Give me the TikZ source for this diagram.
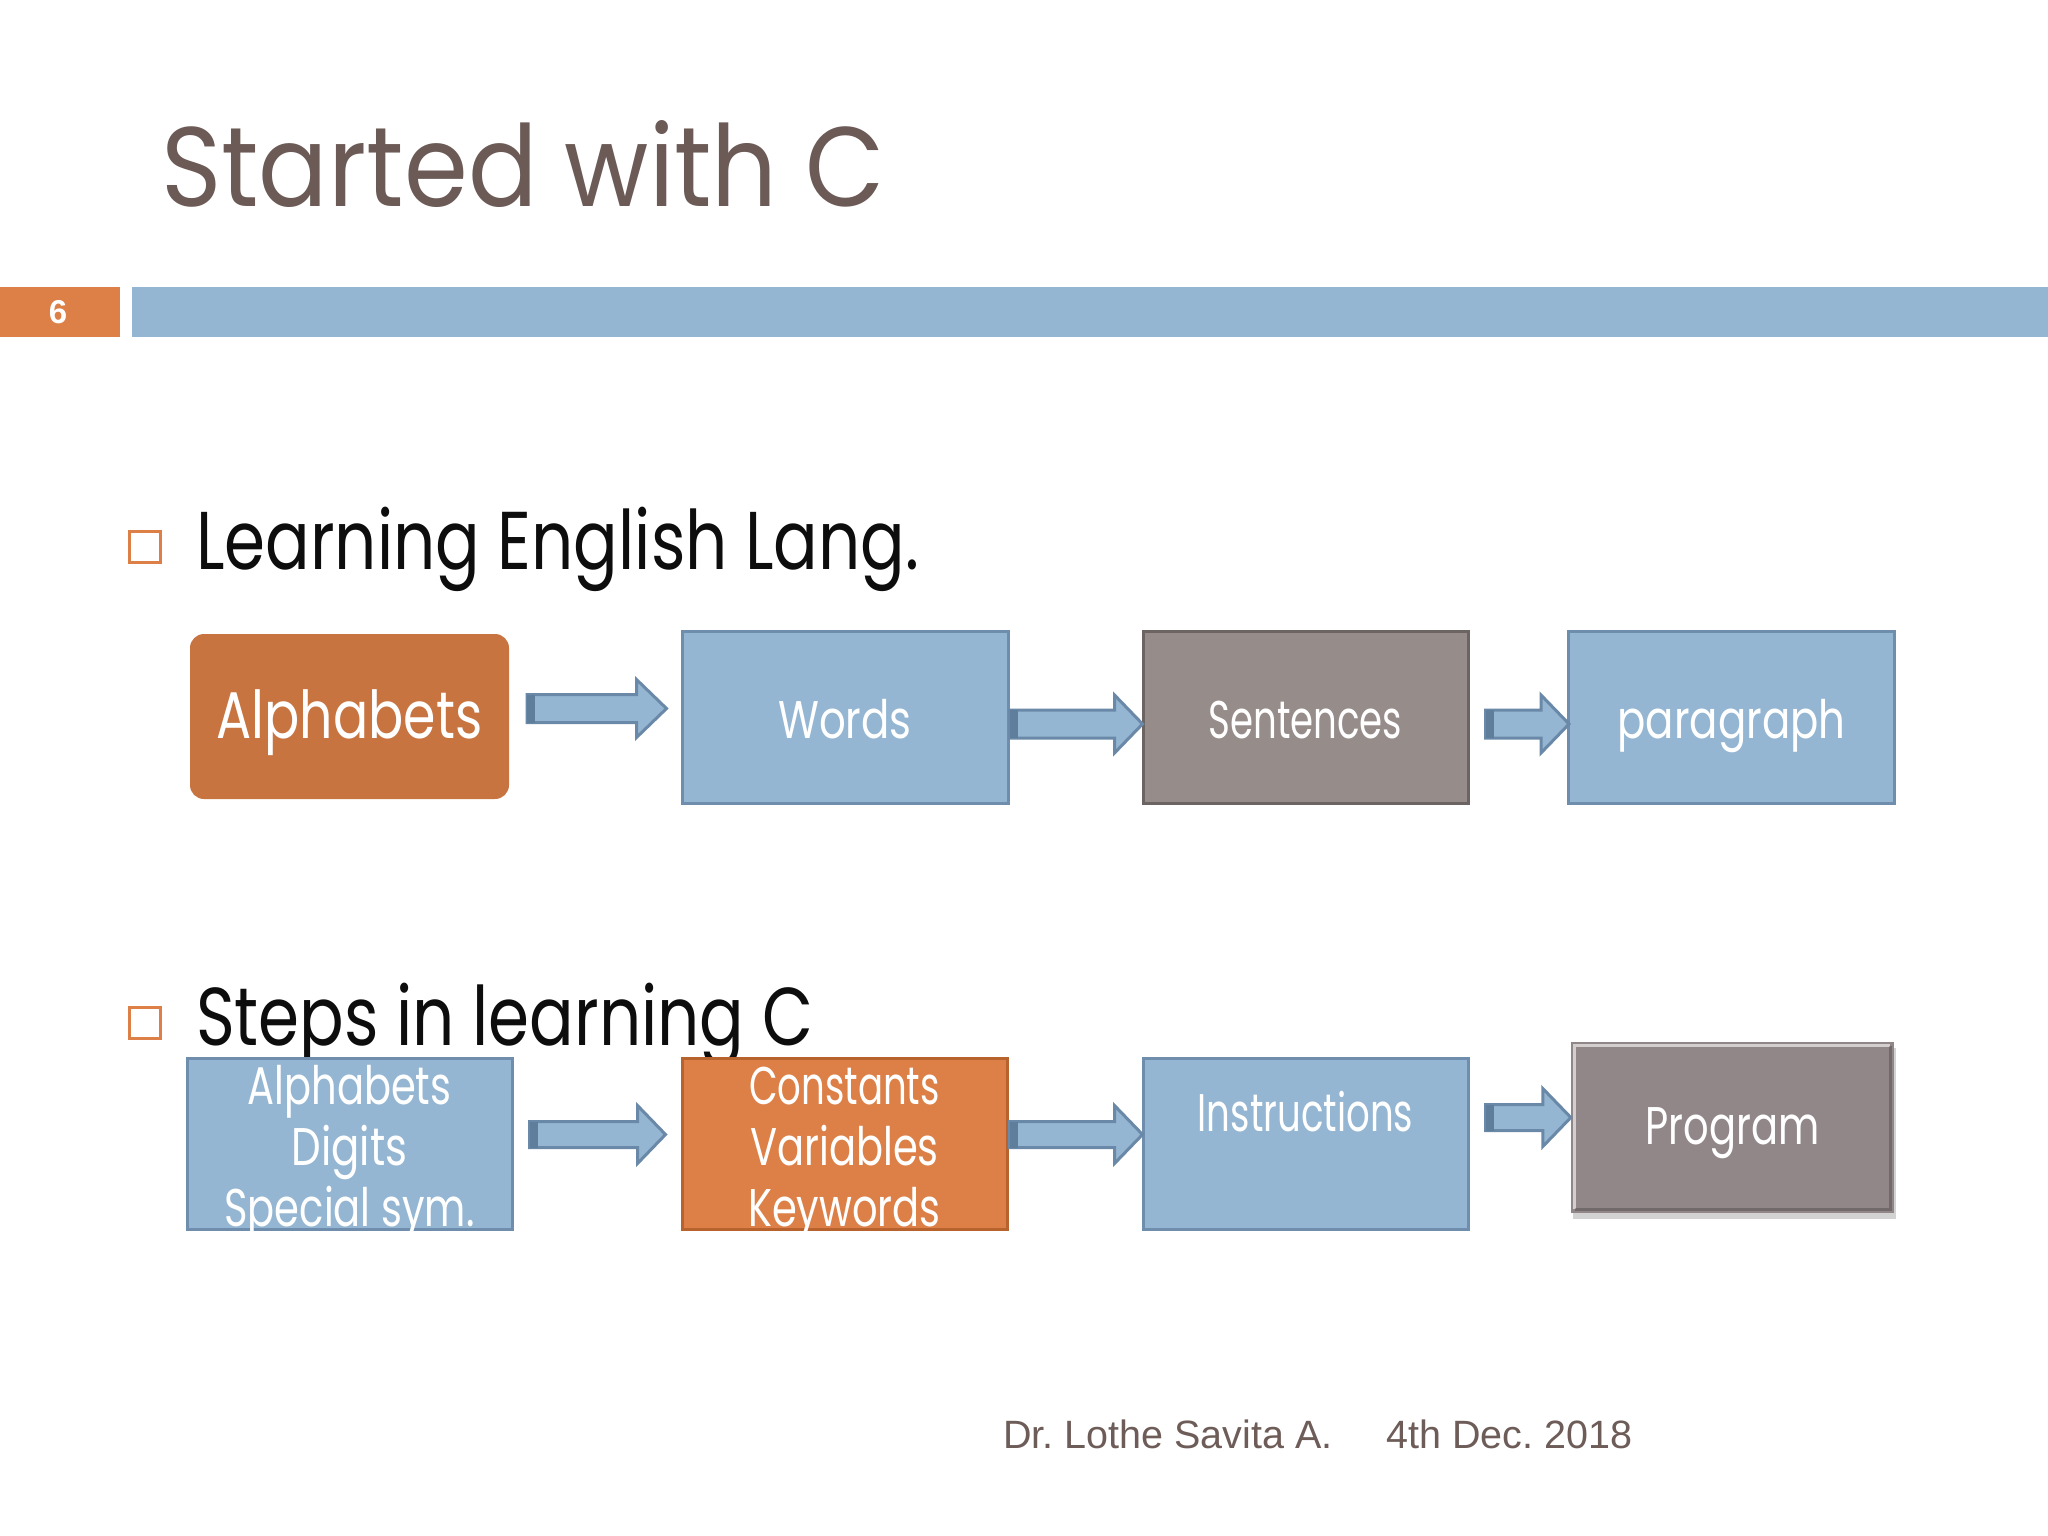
\documentclass[tikz,border=0pt]{standalone}
\usepackage{fontspec}
\setmainfont{Poppins}
\newfontfamily\twT[FakeStretch=0.91]{Poppins}
\newfontfamily\twH[FakeStretch=0.805]{Poppins}
\newfontfamily\twA[FakeStretch=0.79]{Poppins}
\newfontfamily\twB[FakeStretch=0.755]{Poppins}
\newfontfamily\twC[FakeStretch=0.70]{Poppins}
\newfontfamily\arialf{Liberation Sans}
\usetikzlibrary{calc,shadows}
\frenchspacing
\definecolor{titlec}{HTML}{6B5A55}
\definecolor{orangebar}{HTML}{DD8047}
\definecolor{bluebar}{HTML}{94B6D2}
\definecolor{alphaor}{HTML}{C87441}
\definecolor{blueedge}{HTML}{6F8EAD}
\definecolor{sentfill}{HTML}{968C8A}
\definecolor{sentedge}{HTML}{6B6462}
\definecolor{constedge}{HTML}{B8622E}
\definecolor{progfill}{HTML}{918789}
\definecolor{arredge}{HTML}{6A89A8}
\definecolor{arrdark}{HTML}{5F7E9C}
\definecolor{footc}{HTML}{6D5C57}
\definecolor{headc}{HTML}{0D0D0D}
\tikzset{
  boxsty/.style={draw, line width=3pt, minimum width=#1, minimum height=172pt, inner sep=0pt},
  bluebox/.style={boxsty=326pt, fill=bluebar, draw=blueedge},
  lbl/.style={text=white, anchor=base, inner sep=0pt, font=\twB\fontsize{53}{60}\selectfont},
  lblA/.style={lbl, font=\twA\fontsize{53}{60}\selectfont},
  lblC/.style={lbl, font=\twC\fontsize{53}{60}\selectfont},
  arrowsty/.style={fill=bluebar, draw=arredge, line width=3pt, line join=miter},
  bulletsq/.style={draw=orangebar, line width=3pt, minimum size=31pt, inner sep=0pt},
  head/.style={text=headc, anchor=base west, inner sep=0pt, font=\twH\fontsize{82}{90}\selectfont},
  foot/.style={anchor=base west, inner sep=0pt, text=footc, font=\arialf\fontsize{39.5}{44}\selectfont},
}
\newcommand\barrow[5]{%
  \draw[arrowsty] let \p1=(#1), \p2=(#2) in
    (\x1,\y1+#3pt) -- (\x2-#5pt,\y1+#3pt) -- (\x2-#5pt,\y1+#4pt) -- (\x2,\y1)
    -- (\x2-#5pt,\y1-#4pt) -- (\x2-#5pt,\y1-#3pt) -- (\x1,\y1-#3pt) -- cycle;
  \fill[arrdark] let \p1=(#1) in (\x1,\y1+#3pt) rectangle (\x1+8pt,\y1-#3pt);
}
\begin{document}
\begin{tikzpicture}[x=1pt,y=-1pt]
\useasboundingbox[fill=white] (0,0) rectangle (2048,1536);
% title
\node[anchor=base west, inner sep=0pt, text=titlec, font=\twT\fontsize{113}{120}\selectfont] (title) at (161,206) {Started with C};
% bars
\node[fill=orangebar, minimum width=120pt, minimum height=50pt, inner sep=0pt, anchor=north west] (numbox) at (0,287) {};
\node[text=white, font=\arialf\bfseries\fontsize{33}{36}\selectfont, inner sep=0pt] (num) at (58,312) {6};
\node[fill=bluebar, minimum width=1916pt, minimum height=50pt, inner sep=0pt, anchor=north west] (bar) at (132,287) {};
% headings
\node[bulletsq] (b1) at (145,547) {};
\node[head] (h1) at (196,569) {Learning English Lang.};
\node[bulletsq] (b2) at (145,1023) {};
\node[head] (h2) at (196,1045) {Steps in learning C};
% row 1 boxes
\node[fill=alphaor, rounded corners=14pt, minimum width=319pt, minimum height=165pt, inner sep=0pt] (alpha) at (349.5,716.5) {};
\node[lbl, font=\twA\fontsize{66}{70}\selectfont] (alphaT) at (349.5,738) {Alphabets};
\node[bluebox] (words) at (845,717) {};
\node[lblA] (wordsT) at (845,738) {Words};
\node[boxsty=325pt, fill=sentfill, draw=sentedge] (sent) at (1305.5,717) {};
\node[lblC] (sentT) at (1305.5,738) {Sentences};
\node[bluebox] (para) at (1731.5,717) {};
\node[lblA] (paraT) at (1731.5,738) {paragraph};
% row 2 boxes
\node[boxsty=325pt, minimum height=171pt, fill=bluebar, draw=blueedge] (abc) at (349.5,1143.5) {};
\node[lbl] (abc1) at (349.5,1104) {Alphabets};
\node[lblA] (abc2) at (349.5,1165) {Digits};
\node[lbl] (abc3) at (349.5,1226) {Special sym.};
\node[boxsty=325pt, minimum height=171pt, fill=orangebar, draw=constedge] (const) at (844.5,1143.5) {};
\node[lblC] (c1) at (844.5,1104) {Constants};
\node[lbl] (c2) at (844.5,1165) {Variables};
\node[lbl] (c3) at (844.5,1226) {Keywords};
\node[boxsty=325pt, minimum height=171pt, fill=bluebar, draw=blueedge] (instr) at (1305.5,1143.5) {};
\node[lblC] (instrT) at (1305.5,1131) {Instructions};
\node[fill=progfill, minimum width=323pt, minimum height=171pt, inner sep=0pt,
      drop shadow={opacity=0.35, shadow xshift=2pt, shadow yshift=-6pt}] (prog) at (1732.5,1127.5) {};
\draw[white, opacity=0.6, line width=3pt] ($(prog.south west)+(4,-4)$) -- ($(prog.north west)+(4,4)$) -- ($(prog.north east)+(-4,4)$);
\draw[black, opacity=0.22, line width=3pt] ($(prog.south west)+(4,-4)$) -- ($(prog.south east)+(-4,-4)$) -- ($(prog.north east)+(-4,4)$);
\node[lbl] (progT) at (1732.5,1144) {Program};
% arrows
\coordinate (a1s) at ($(alpha.east)+(18,-8)$);
\coordinate (a1e) at ($(words.west)+(-14,-8)$);
\barrow{a1s}{a1e}{14}{29}{30}
\coordinate (a2s) at ($(words.east)+(0,7)$);
\coordinate (a2e) at ($(sent.west)+(1,7)$);
\barrow{a2s}{a2e}{14}{29}{28}
\coordinate (a3s) at ($(sent.east)+(16,7)$);
\coordinate (a3e) at ($(para.west)+(2,7)$);
\barrow{a3s}{a3e}{14}{29}{28}
\coordinate (a4s) at ($(abc.east)+(16,-9)$);
\coordinate (a4e) at ($(const.west)+(-15,-9)$);
\barrow{a4s}{a4e}{13}{29}{28}
\coordinate (a5s) at ($(const.east)+(1,-9)$);
\coordinate (a5e) at ($(instr.west)+(1,-9)$);
\barrow{a5s}{a5e}{13}{29}{28}
\coordinate (a6s) at ($(instr.east)+(16,-26)$);
\coordinate (a6e) at ($(prog.west)+(0,-10)$);
\barrow{a6s}{a6e}{13}{29}{28}
% footer
\node[foot] (auth) at (1003,1448) {Dr. Lothe Savita A.};
\node[foot] (date) at (1386,1448) {4th Dec. 2018};
\end{tikzpicture}
\end{document}
